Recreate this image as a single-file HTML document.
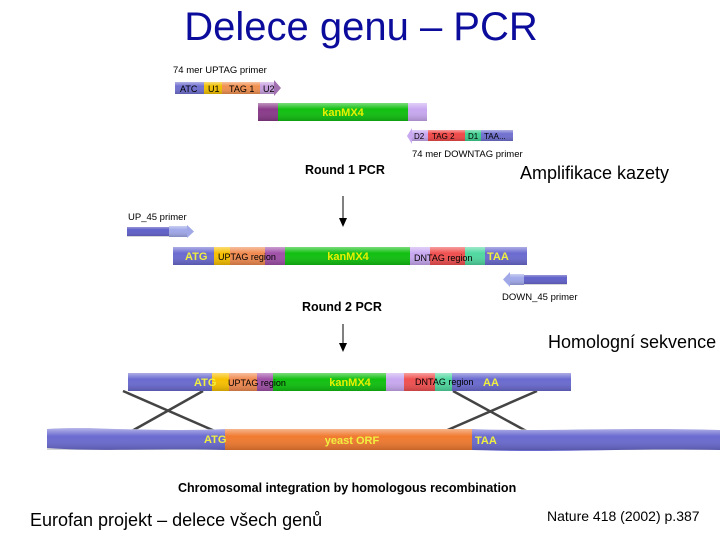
<!DOCTYPE html>
<html><head><meta charset="utf-8"><style>
body{margin:0;background:#fff;width:720px;height:540px;overflow:hidden}
svg{display:block}
text{font-family:"Liberation Sans",sans-serif}
</style></head><body>
<svg width="720" height="540" viewBox="0 0 720 540">
<defs>
<linearGradient id="tb" x1="0" y1="0" x2="0" y2="1"><stop offset="0" stop-color="#fff" stop-opacity="0.45"/><stop offset="0.35" stop-color="#fff" stop-opacity="0"/><stop offset="1" stop-color="#000" stop-opacity="0.18"/></linearGradient>
</defs>
<text x="361" y="40" font-size="40" fill="#0c0c9c" text-anchor="middle">Delece genu – PCR</text>

<!-- round 1 -->
<text x="173" y="73" font-size="9.5" fill="#000">74 mer UPTAG primer</text>
<g>
<rect x="175" y="82" width="29" height="12" fill="#7070d0"/>
<rect x="204" y="82" width="18" height="12" fill="#f0c000"/>
<rect x="222" y="82" width="38" height="12" fill="#f09050"/>
<rect x="260" y="82" width="14" height="12" fill="#c8a0e0"/>
<polygon points="274,80 281,88 274,96" fill="#a070b0"/>
<rect x="175" y="82" width="99" height="12" fill="url(#tb)"/>
<text x="180" y="92" font-size="9">ATC</text><text x="208" y="92" font-size="9">U1</text><text x="229" y="92" font-size="9">TAG 1</text><text x="263" y="92" font-size="9">U2</text>
</g>
<rect x="258" y="103" width="20" height="18" fill="#8a3a8a"/>
<rect x="278" y="103" width="130" height="18" fill="#10c010"/>
<rect x="408" y="103" width="19" height="18" fill="#c8a8f0"/>
<rect x="258" y="103" width="169" height="18" fill="url(#tb)"/>
<text x="343" y="116" font-size="11" font-weight="bold" fill="#e8f000" text-anchor="middle">kanMX4</text>
<g>
<polygon points="412,128 407,136 412,144" fill="#c8a8f0"/>
<rect x="412" y="130" width="16" height="11" fill="#c8a8f0"/>
<rect x="428" y="130" width="37" height="11" fill="#f04848"/>
<rect x="465" y="130" width="16" height="11" fill="#40d090"/>
<rect x="481" y="130" width="32" height="11" fill="#7070d0"/>
<rect x="412" y="130" width="101" height="11" fill="url(#tb)"/>
<text x="414" y="139" font-size="8">D2</text><text x="432" y="139" font-size="8">TAG 2</text><text x="468" y="139" font-size="8">D1</text><text x="484" y="139" font-size="8">TAA...</text>
</g>
<text x="412" y="157" font-size="9.5">74 mer DOWNTAG primer</text>
<text x="305" y="174" font-size="12.5" font-weight="bold">Round 1 PCR</text>
<text x="520" y="179" font-size="18">Amplifikace kazety</text>
<line x1="343" y1="196" x2="343" y2="220" stroke="#000" stroke-width="1"/>
<polygon points="339,218 347,218 343,227" fill="#000"/>

<!-- round 2 -->
<text x="128" y="220" font-size="9.5">UP_45 primer</text>
<rect x="127" y="227" width="42" height="9" fill="#6060c8"/>
<rect x="169" y="226" width="18" height="11" fill="#a0a8e8"/>
<polygon points="187,225 194,231.5 187,238" fill="#a0a8e8"/>
<rect x="127" y="226" width="60" height="11" fill="url(#tb)"/>
<g>
<rect x="173" y="247" width="41" height="18" fill="#6a6ad0"/>
<rect x="214" y="247" width="16" height="18" fill="#f8c000"/>
<rect x="230" y="247" width="35" height="18" fill="#f08a50"/>
<rect x="265" y="247" width="20" height="18" fill="#a050a8"/>
<rect x="285" y="247" width="125" height="18" fill="#10c010"/>
<rect x="410" y="247" width="20" height="18" fill="#c8a8f0"/>
<rect x="430" y="247" width="35" height="18" fill="#f05050"/>
<rect x="465" y="247" width="20" height="18" fill="#50d8a0"/>
<rect x="485" y="247" width="42" height="18" fill="#6a6ad0"/>
<rect x="173" y="247" width="354" height="18" fill="url(#tb)"/>
<text x="185" y="260" font-size="11" font-weight="bold" fill="#f0f040">ATG</text>
<text x="218" y="260" font-size="9">UPTAG region</text>
<text x="348" y="260" font-size="11" font-weight="bold" fill="#e8f000" text-anchor="middle">kanMX4</text>
<text x="414" y="261" font-size="9">DNTAG region</text>
<text x="487" y="260" font-size="11" font-weight="bold" fill="#f0f040">TAA</text>
</g>
<rect x="522" y="275" width="45" height="9" fill="#6060c8"/>
<rect x="510" y="274" width="14" height="11" fill="#a0a8e8"/>
<polygon points="510,272 503,279.5 510,287" fill="#a0a8e8"/>
<rect x="510" y="274" width="57" height="11" fill="url(#tb)"/>
<text x="502" y="300" font-size="9.5">DOWN_45 primer</text>
<text x="302" y="311" font-size="12.5" font-weight="bold">Round 2 PCR</text>
<text x="548" y="348" font-size="18">Homologní sekvence</text>
<line x1="343" y1="324" x2="343" y2="345" stroke="#000" stroke-width="1"/>
<polygon points="339,343 347,343 343,352" fill="#000"/>

<!-- round 3 -->
<line x1="123" y1="391" x2="217" y2="432" stroke="#444" stroke-width="2.5"/>
<line x1="203" y1="391" x2="130" y2="432" stroke="#444" stroke-width="2.5"/>
<line x1="453" y1="391" x2="528" y2="432" stroke="#444" stroke-width="2.5"/>
<line x1="537" y1="391" x2="443" y2="432" stroke="#444" stroke-width="2.5"/>
<g>
<rect x="128" y="373" width="84" height="18" fill="#6a6ad0"/>
<rect x="212" y="373" width="17" height="18" fill="#f8c000"/>
<rect x="229" y="373" width="28" height="18" fill="#f08a50"/>
<rect x="257" y="373" width="16" height="18" fill="#a050a8"/>
<rect x="273" y="373" width="113" height="18" fill="#10c010"/>
<rect x="386" y="373" width="18" height="18" fill="#c8a8f0"/>
<rect x="404" y="373" width="31" height="18" fill="#f05050"/>
<rect x="435" y="373" width="17" height="18" fill="#50d8a0"/>
<rect x="452" y="373" width="119" height="18" fill="#6a6ad0"/>
<rect x="128" y="373" width="443" height="18" fill="url(#tb)"/>
<text x="194" y="386" font-size="11" font-weight="bold" fill="#f0f040">ATG</text>
<text x="228" y="386" font-size="9">UPTAG region</text>
<text x="350" y="386" font-size="11" font-weight="bold" fill="#e8f000" text-anchor="middle">kanMX4</text>
<text x="415" y="385" font-size="9">DNTAG region</text>
<text x="483" y="386" font-size="11" font-weight="bold" fill="#f0f040">AA</text>
</g>
<g>
<path d="M47,429 C100,427 170,432 225,429 L225,450 C170,448 100,452 47,448 Z" fill="#6a6ad0"/>
<rect x="225" y="429" width="247" height="21" fill="#f07a30"/>
<path d="M472,429 C540,432 620,427 720,430 L720,450 C620,448 560,453 472,450 Z" fill="#6a6ad0"/>
<rect x="47" y="429" width="673" height="21" fill="url(#tb)"/>
<text x="204" y="443" font-size="11" font-weight="bold" fill="#f0f040">ATG</text>
<text x="352" y="444" font-size="11" font-weight="bold" fill="#f0f040" text-anchor="middle">yeast ORF</text>
<text x="475" y="444" font-size="11" font-weight="bold" fill="#f0f040">TAA</text>
</g>
<text x="178" y="492" font-size="12.5" font-weight="bold">Chromosomal integration by homologous recombination</text>
<text x="30" y="526" font-size="18">Eurofan projekt – delece všech genů</text>
<text x="547" y="521" font-size="14">Nature 418 (2002) p.387</text>
</svg>
</body></html>
